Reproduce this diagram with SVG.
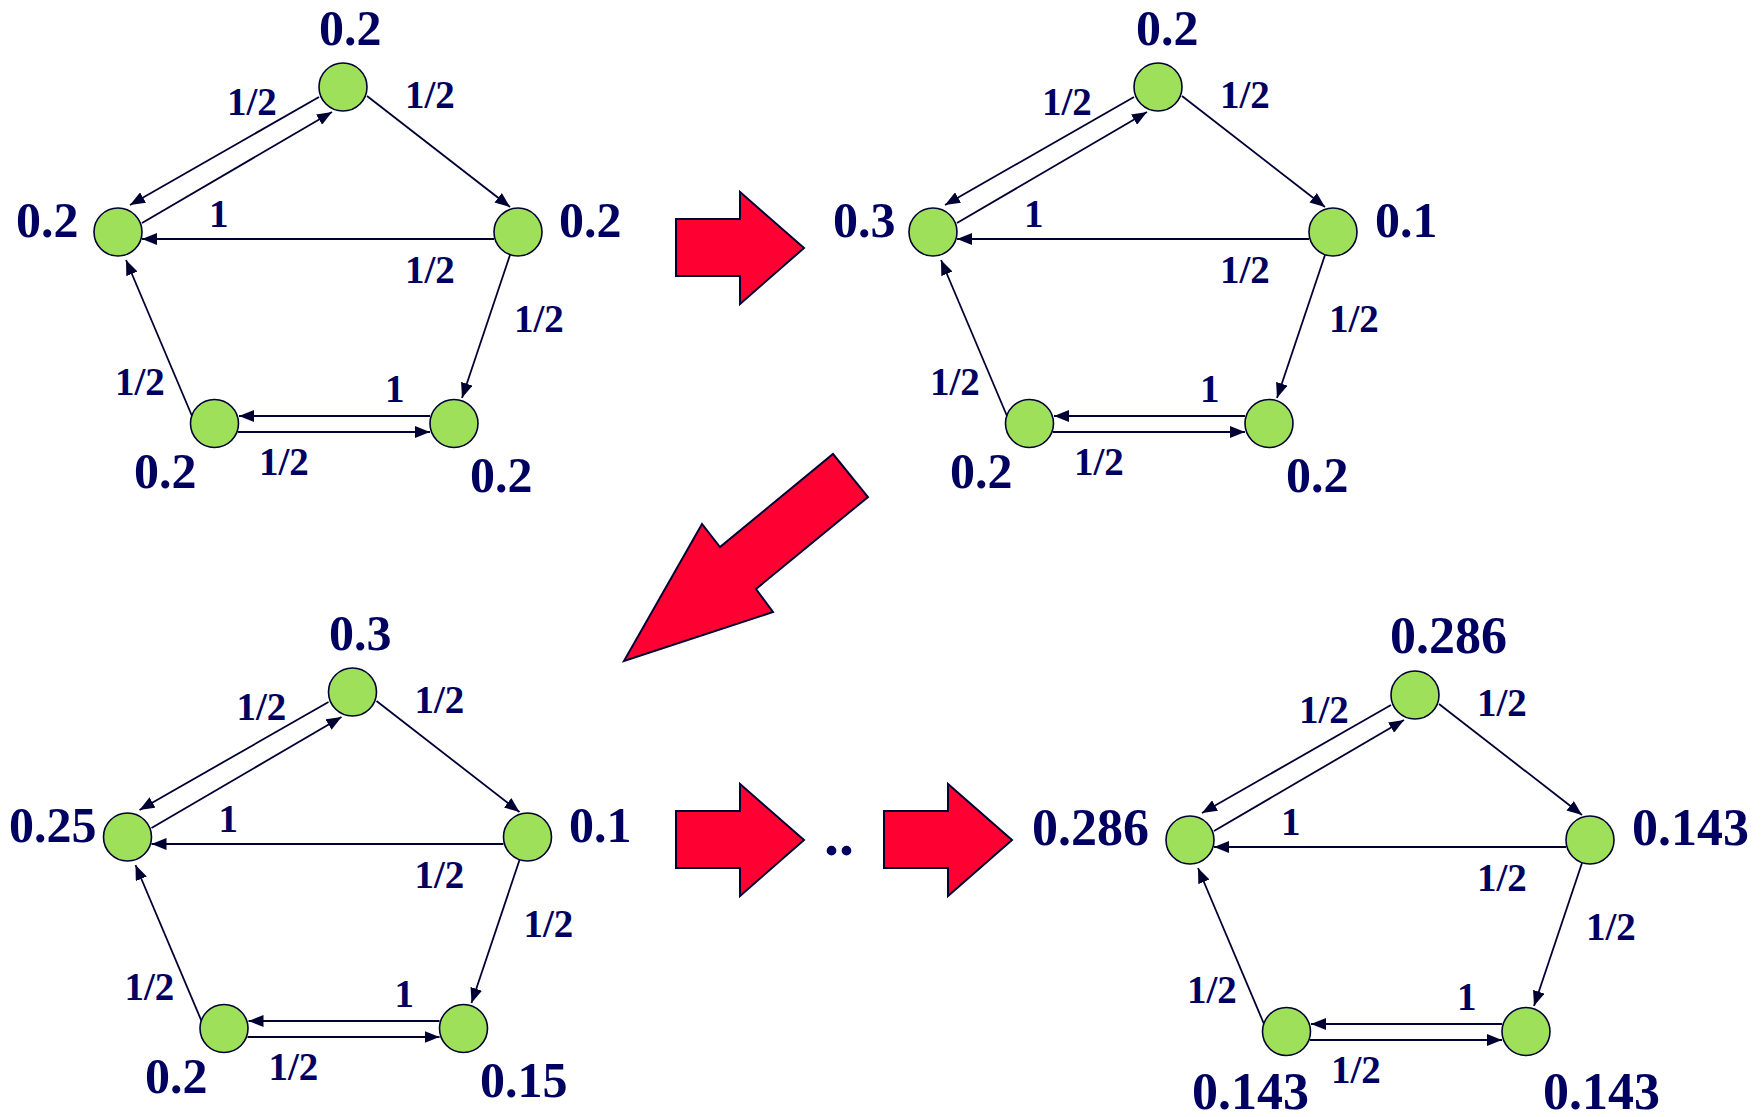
<svg xmlns="http://www.w3.org/2000/svg" width="1762" height="1117" viewBox="0 0 1762 1117">
<style>
.nd{fill:#9ee05a;stroke:#000033;stroke-width:1.6}
.val{font-family:"Liberation Serif","Times New Roman",serif;font-weight:bold;font-size:50px;fill:#000060}
.el{font-family:"Liberation Serif","Times New Roman",serif;font-weight:bold;font-size:39px;fill:#000060}
.ed{stroke:#000033;stroke-width:1.8;marker-end:url(#ah)}
.big{fill:#ff0033;stroke:#000033;stroke-width:2;stroke-linejoin:miter}
</style>
<defs>
<marker id="ah" markerUnits="userSpaceOnUse" markerWidth="16" markerHeight="12" refX="15" refY="6" orient="auto">
<path d="M0,0 L15,6 L0,12 z" fill="#000033"/>
</marker>
<g id="edges">
<line class="ed" x1="319" y1="97" x2="130" y2="205"/>
<line class="ed" x1="142" y1="223" x2="332" y2="112"/>
<line class="ed" x1="367" y1="96" x2="510" y2="207"/>
<line class="ed" x1="494" y1="239" x2="142" y2="239"/>
<line class="ed" x1="510" y1="255" x2="462" y2="398"/>
<line class="ed" x1="192" y1="416" x2="126" y2="260"/>
<line class="ed" x1="430" y1="416" x2="239" y2="416"/>
<line class="ed" x1="238" y1="432" x2="430" y2="432"/>
</g>
<g id="elabels">
<text class="el" x="227" y="115">1/2</text>
<text class="el" x="405" y="108">1/2</text>
<text class="el" x="209" y="227">1</text>
<text class="el" x="405" y="283">1/2</text>
<text class="el" x="514" y="332">1/2</text>
<text class="el" x="115" y="395">1/2</text>
<text class="el" x="385" y="402">1</text>
<text class="el" x="259" y="475">1/2</text>
</g>
</defs>

<!-- Graph 1 -->
<g id="graph1">
<g id="g1-connectors"><use href="#edges"/><use href="#elabels"/></g>
<g id="g1-top"><circle class="nd" cx="343" cy="87" r="24"/><text class="val" x="319" y="45">0.2</text></g>
<g id="g1-left"><circle class="nd" cx="118" cy="232" r="24"/><text class="val" x="16" y="237">0.2</text></g>
<g id="g1-right"><circle class="nd" cx="518" cy="232" r="24"/><text class="val" x="559" y="237">0.2</text></g>
<g id="g1-bl"><circle class="nd" cx="214.5" cy="423.5" r="24"/><text class="val" x="134" y="488">0.2</text></g>
<g id="g1-br"><circle class="nd" cx="454" cy="423.5" r="24"/><text class="val" x="470" y="492">0.2</text></g>
</g>

<!-- Graph 2 -->
<g id="graph2" transform="translate(815,0)">
<g id="g2-connectors"><use href="#edges"/><use href="#elabels"/></g>
<g id="g2-top"><circle class="nd" cx="343" cy="87" r="24"/><text class="val" x="321" y="45">0.2</text></g>
<g id="g2-left"><circle class="nd" cx="118" cy="232" r="24"/><text class="val" x="18" y="237">0.3</text></g>
<g id="g2-right"><circle class="nd" cx="518" cy="232" r="24"/><text class="val" x="560" y="237">0.1</text></g>
<g id="g2-bl"><circle class="nd" cx="214.5" cy="423.5" r="24"/><text class="val" x="135" y="488">0.2</text></g>
<g id="g2-br"><circle class="nd" cx="454" cy="423.5" r="24"/><text class="val" x="471" y="492">0.2</text></g>
</g>

<!-- Graph 3 -->
<g id="graph3" transform="translate(9.5,605)">
<g id="g3-connectors"><use href="#edges"/><use href="#elabels"/></g>
<g id="g3-top"><circle class="nd" cx="343" cy="87" r="24"/><text class="val" x="319.5" y="45">0.3</text></g>
<g id="g3-left"><circle class="nd" cx="118" cy="232" r="24"/><text class="val" x="-0.5" y="237">0.25</text></g>
<g id="g3-right"><circle class="nd" cx="518" cy="232" r="24"/><text class="val" x="559.5" y="237">0.1</text></g>
<g id="g3-bl"><circle class="nd" cx="214.5" cy="423.5" r="24"/><text class="val" x="135.5" y="488">0.2</text></g>
<g id="g3-br"><circle class="nd" cx="454" cy="423.5" r="24"/><text class="val" x="470.5" y="492">0.15</text></g>
</g>

<!-- Graph 4 -->
<g id="graph4" transform="translate(1072,608)">
<g id="g4-connectors"><use href="#edges"/><use href="#elabels"/></g>
<g id="g4-top"><circle class="nd" cx="343" cy="87" r="24"/><text class="val" x="318" y="45" style="font-size:52px">0.286</text></g>
<g id="g4-left"><circle class="nd" cx="118" cy="232" r="24"/><text class="val" x="-40" y="237" style="font-size:52px">0.286</text></g>
<g id="g4-right"><circle class="nd" cx="518" cy="232" r="24"/><text class="val" x="560" y="237" style="font-size:52px">0.143</text></g>
<g id="g4-bl"><circle class="nd" cx="214.5" cy="423.5" r="24"/><text class="val" x="120" y="501" style="font-size:52px">0.143</text></g>
<g id="g4-br"><circle class="nd" cx="454" cy="423.5" r="24"/><text class="val" x="471" y="501" style="font-size:52px">0.143</text></g>
</g>

<!-- Big red arrows -->
<g id="bigarrows">
<polygon id="arrow1" class="big" points="676,219 740,219 740,192 804,248 740,304 740,276 676,276"/>
<polygon id="arrow2" class="big" points="833,454 868,497 756,589 773,612 624,661 702,524 720,547"/>
<polygon id="arrow3" class="big" points="676,811 740,811 740,784 804,840 740,896 740,868 676,868"/>
<polygon id="arrow4" class="big" points="884,811 948,811 948,784 1012,840 948,896 948,868 884,868"/>
</g>
<text id="dots" class="val" x="839" y="855" text-anchor="middle" style="font-size:60px">..</text>
</svg>
